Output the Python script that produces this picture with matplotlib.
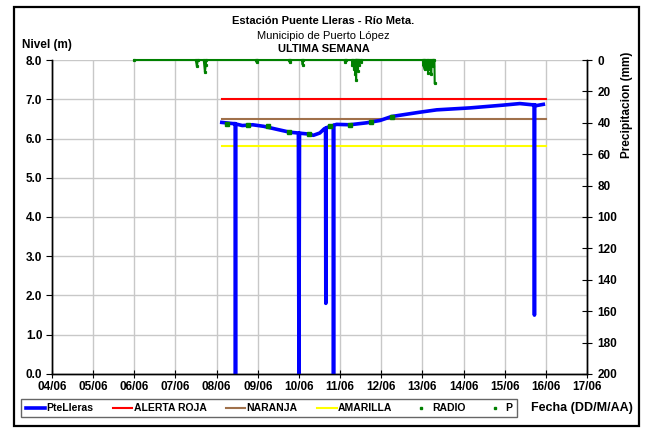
import matplotlib
matplotlib.use("Agg")
import matplotlib.pyplot as plt
import matplotlib.dates as mdates
from matplotlib.patches import Rectangle
from datetime import datetime

plt.rcParams['font.family'] = ['Liberation Sans', 'DejaVu Sans']
YEAR = 2023

def to_dt(s):
    return datetime.strptime(s, "%d/%m %H:%M").replace(year=YEAR)

# nivel PteLleras (m)
nivel_t = ["08/06 03:00", "08/06 09:30", "08/06 10:50", "08/06 11:00", "08/06 11:10",
           "08/06 15:00", "08/06 21:00", "09/06 03:30", "09/06 10:30", "09/06 18:40",
           "09/06 23:40", "10/06 00:00", "10/06 00:20", "10/06 01:40", "10/06 06:30",
           "10/06 08:20", "10/06 12:10", "10/06 14:50", "10/06 15:30", "10/06 15:40",
           "10/06 15:50", "10/06 18:10", "10/06 20:00", "10/06 20:10", "10/06 20:20",
           "10/06 22:00", "11/06 05:40", "11/06 15:30", "11/06 23:20", "12/06 06:00",
           "12/06 22:30", "13/06 08:20", "14/06 03:50", "14/06 23:00", "15/06 08:50",
           "15/06 15:50", "15/06 17:10", "15/06 17:20", "15/06 17:30", "15/06 18:40",
           "15/06 22:30"]
nivel_v = [6.41, 6.38, 6.38, 0.0, 6.37,
           6.33, 6.35, 6.31, 6.24, 6.16,
           6.14, 0.0, 6.14, 6.13, 6.11,
           6.08, 6.14, 6.25, 6.26, 1.8,
           6.27, 6.31, 6.33, 0.0, 6.34,
           6.36, 6.35, 6.40, 6.46, 6.56,
           6.67, 6.73, 6.78, 6.85, 6.89,
           6.86, 6.86, 1.5, 6.86, 6.84,
           6.87]

# umbrales
umbral_t = ["08/06 03:00", "16/06 00:00"]
alerta_roja = [7.0, 7.0]
naranja = [6.5, 6.5]
amarilla = [5.8, 5.8]

# RADIO
radio_t = ["08/06 06:00", "08/06 18:00", "09/06 06:00", "09/06 18:00", "10/06 06:00",
           "10/06 18:00", "11/06 06:00", "11/06 18:00", "12/06 06:00"]
radio_v = [6.38, 6.34, 6.31, 6.16, 6.11, 6.31, 6.34, 6.41, 6.56]

# precipitacion (mm)
p_t = ["06/06 00:00", "07/06 11:50", "07/06 12:30", "07/06 13:00", "07/06 16:30",
       "07/06 17:10", "07/06 17:40", "07/06 18:00", "08/06 23:00", "08/06 23:20",
       "08/06 23:40", "09/06 18:20", "09/06 18:40", "09/06 19:00", "10/06 01:50",
       "10/06 02:10", "10/06 02:30", "11/06 02:40", "11/06 02:50", "11/06 03:10",
       "11/06 07:00", "11/06 07:10", "11/06 07:30", "11/06 08:10", "11/06 08:30",
       "11/06 08:50", "11/06 09:00", "11/06 09:20", "11/06 09:30", "11/06 09:50",
       "11/06 10:00", "11/06 10:20", "11/06 10:30", "11/06 11:00", "11/06 11:10",
       "11/06 12:00", "11/06 12:10", "13/06 00:30", "13/06 00:40", "13/06 00:50",
       "13/06 01:20", "13/06 01:30", "13/06 02:20", "13/06 02:30", "13/06 03:20",
       "13/06 03:30", "13/06 04:10", "13/06 04:20", "13/06 05:10", "13/06 05:20",
       "13/06 06:10", "13/06 06:20", "13/06 07:00", "13/06 07:10"]
p_v = [0, 0, 4, 0, 0,
       7.5, 3, 0, 0, 1.5,
       0, 0, 1.5, 0, 0,
       3, 0, 0, 1, 0,
       0, 3, 0, 6, 0,
       9, 0, 12.5, 0, 5,
       0, 7, 0, 3, 0,
       1, 0, 0, 4, 0,
       6, 0, 5, 0, 8,
       0, 6, 0, 9, 0,
       4, 0, 0, 14.5]

x_ticks = ["%02d/06 00:00" % d for d in range(4, 18)]

fig = plt.figure(figsize=(6.47, 4.28), dpi=100)
ax = fig.add_axes([0.0804, 0.1262, 0.8269, 0.7336])
ax2 = ax.twinx()

ax.plot([to_dt(s) for s in umbral_t], alerta_roja, color="#FF0000", lw=1.5, zorder=3)
ax.plot([to_dt(s) for s in umbral_t], naranja, color="#A0714B", lw=1.5, zorder=3)
ax.plot([to_dt(s) for s in umbral_t], amarilla, color="#FFFF00", lw=1.5, zorder=3)
ax.plot([to_dt(s) for s in nivel_t], nivel_v, color="#0000FF", lw=2.6, zorder=4)
ax.plot([to_dt(s) for s in radio_t], radio_v, ls="none", marker="s", ms=2.3,
        color="#008000", zorder=5)

ax2.plot([to_dt(s) for s in p_t], p_v, color="#008000", lw=1.5, marker="s", ms=1.3,
         clip_on=False, zorder=5)

ax.set_xlim(to_dt(x_ticks[0]), to_dt(x_ticks[-1]))
ax.set_ylim(0, 8)
ax.set_yticks([i for i in range(9)])
ax.set_yticklabels(["%.1f" % i for i in range(9)])
ax.set_xticks([to_dt(s) for s in x_ticks])
ax.xaxis.set_major_formatter(mdates.DateFormatter("%d/%m"))
ax2.set_ylim(200, 0)
ax2.set_yticks(range(0, 201, 20))

ax.grid(True, color="#C8C8C8", lw=1)
ax.set_axisbelow(True)
for a in (ax, ax2):
    a.spines['top'].set_visible(False)
    for sp in ('left', 'right', 'bottom'):
        a.spines[sp].set_color("black")
        a.spines[sp].set_linewidth(1)
ax.tick_params(axis='y', direction='out', length=4, labelsize=8.5, pad=3)
ax.tick_params(axis='x', direction='inout', length=6, labelsize=8.5, pad=2)
ax2.tick_params(axis='y', direction='inout', length=7, labelsize=8.5, pad=4)
for lab in ax.get_xticklabels() + ax.get_yticklabels() + ax2.get_yticklabels():
    lab.set_fontweight("bold")

fig.text(0.5, 0.95, "Estación Puente Lleras - Río Meta.", ha="center", va="center",
         fontsize=8, fontweight="bold")
fig.text(0.5, 0.915, "Municipio de Puerto López", ha="center", va="center", fontsize=8)
fig.text(0.5, 0.885, "ULTIMA SEMANA", ha="center", va="center", fontsize=8,
         fontweight="bold")
fig.text(0.034, 0.895, "Nivel (m)", ha="left", va="center", fontsize=8.5,
         fontweight="bold")
fig.text(0.969, 0.755, "Precipitacion (mm)", ha="center", va="center", rotation=90,
         fontsize=8.5, fontweight="bold")
fig.text(0.978, 0.046, "Fecha (DD/M/AA)", ha="right", va="center", fontsize=9,
         fontweight="bold")

handles = [
    plt.Line2D([], [], color="#0000FF", lw=2.6),
    plt.Line2D([], [], color="#FF0000", lw=1.5),
    plt.Line2D([], [], color="#A0714B", lw=1.5),
    plt.Line2D([], [], color="#FFFF00", lw=1.5),
    plt.Line2D([], [], color="#008000", ls="none", marker="s", ms=2),
    plt.Line2D([], [], color="#008000", ls="none", marker="s", ms=1.8),
]
labels = ["PteLleras", "ALERTA ROJA", "NARANJA", "AMARILLA", "RADIO", "P"]
leg = fig.legend(handles, labels, loc="center", bbox_to_anchor=(0.416, 0.046), ncol=6,
                 fontsize=7.5, frameon=True, fancybox=False, handlelength=1.9,
                 handletextpad=0.1, columnspacing=1.85, borderpad=0.4)
leg.get_frame().set_edgecolor("#404040")
leg.get_frame().set_linewidth(1.0)
for t in leg.get_texts():
    t.set_fontweight("bold")

fig.patches.append(Rectangle((14 / 647, 2 / 428), 625 / 647, 419 / 428,
                             transform=fig.transFigure, fill=False, ec="black", lw=1.6))

fig.savefig("out.png", dpi=100)
